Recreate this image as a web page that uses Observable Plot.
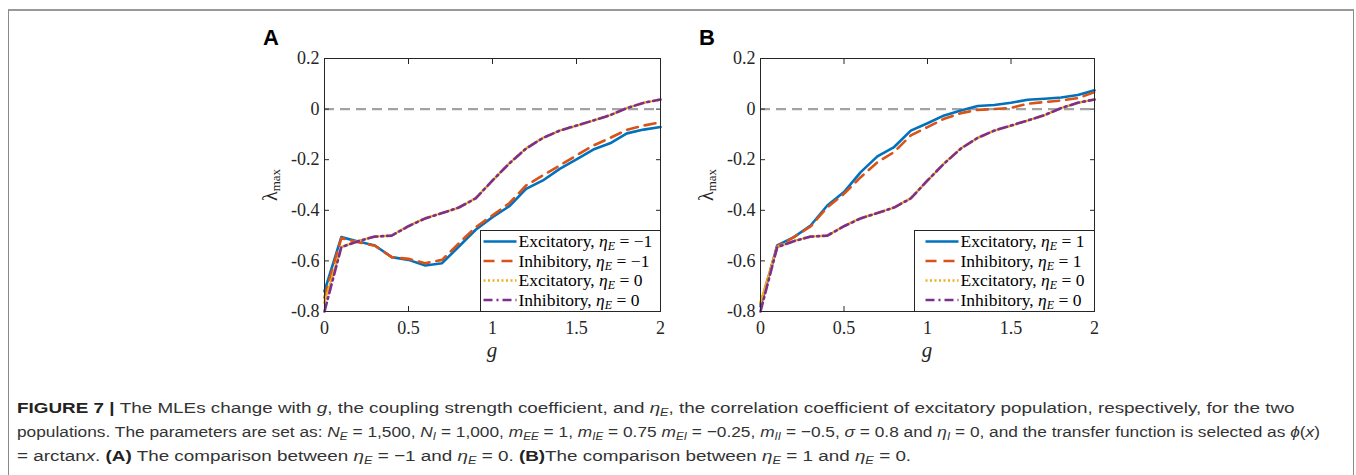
<!DOCTYPE html>
<html><head><meta charset="utf-8">
<script src="https://cdn.jsdelivr.net/npm/d3@7"></script>
<script src="https://cdn.jsdelivr.net/npm/@observablehq/plot@0.6"></script>
<style>
html,body{margin:0;padding:0;background:#fff;width:1356px;height:475px;overflow:hidden;}
#root{position:relative;width:1356px;height:475px;}
#border{position:absolute;left:8px;top:9px;width:1344px;height:500px;border:1px solid #8a8a8a;border-top:2px solid #999;}
.panel{position:absolute;}
#cap{position:absolute;left:0;top:0;}
</style></head><body><div id="root"><div id="border"></div></div>
<script>
// ---- data ----
const g = [0,0.1,0.2,0.3,0.4,0.5,0.6,0.7,0.8,0.9,1.0,1.1,1.2,1.3,1.4,1.5,1.6,1.7,1.8,1.9,2.0];
// Panel A: eta_E = -1
const excA = [-0.72,-0.506,-0.523,-0.539,-0.585,-0.596,-0.618,-0.609,-0.543,-0.477,-0.427,-0.384,-0.315,-0.282,-0.236,-0.199,-0.160,-0.135,-0.096,-0.081,-0.071];
const inhA = [-0.745,-0.510,-0.526,-0.540,-0.585,-0.592,-0.609,-0.596,-0.530,-0.467,-0.420,-0.372,-0.302,-0.262,-0.223,-0.183,-0.144,-0.114,-0.082,-0.065,-0.052];
// eta_E = 0 (both panels)
const exc0 = [-0.765,-0.545,-0.521,-0.504,-0.500,-0.462,-0.431,-0.411,-0.389,-0.352,-0.283,-0.214,-0.155,-0.114,-0.085,-0.066,-0.045,-0.024,0.004,0.025,0.038];
const inh0 = [-0.800,-0.546,-0.522,-0.504,-0.500,-0.463,-0.432,-0.411,-0.389,-0.353,-0.282,-0.215,-0.156,-0.114,-0.085,-0.065,-0.045,-0.024,0.004,0.025,0.038];
// Panel B: eta_E = 1
const excB = [-0.78,-0.539,-0.506,-0.460,-0.381,-0.328,-0.249,-0.187,-0.150,-0.085,-0.056,-0.025,-0.006,0.012,0.016,0.025,0.037,0.041,0.046,0.056,0.074];
const inhB = [-0.77,-0.543,-0.506,-0.464,-0.388,-0.335,-0.269,-0.210,-0.170,-0.104,-0.071,-0.038,-0.016,-0.003,0.000,0.005,0.021,0.028,0.034,0.043,0.067];

const xTicks = [0,0.5,1,1.5,2];
const xTickLabels = ["0","0.5","1","1.5","2"];
const yTicks = [-0.8,-0.6,-0.4,-0.2,0,0.2];
const yTickLabels = ["-0.8","-0.6","-0.4","-0.2","0","0.2"];

const seriesNames = ["Excitatory","Inhibitory","Excitatory","Inhibitory"];
const etaA = ["\u22121","\u22121","0","0"];
const etaB = ["1","1","0","0"];
const colors = ["#0072BD","#D95319","#EDB120","#7E2F8E"];
const dashes = [null,"11,7","2,2.5","9,4,2,4"];

// ---- drawing ----
const root = document.getElementById("root");
const SERIF = '"Liberation Serif","Times New Roman",serif';

function labelOf(ticks, labels){
  return d => labels[ticks.findIndex(t => Math.abs(t - d) < 1e-9)];
}

function makePanel({left, top, frameW, series, etas, letter, legPad}){
  const mL = 74, mR = 10, mT = 18, mB = 60, frameH = 253;
  const W = mL + frameW + mR, H = mT + frameH + mB;
  const marks = [
    Plot.ruleY([0], {stroke:"#a3a3a3", strokeWidth:2.2, strokeDasharray:"10,6"}),
    ...series.map((vals, i) => Plot.line(g.map((x, j) => ({g:x, v:vals[j]})), {
      x:"g", y:"v", stroke:colors[i], strokeWidth:2.6, strokeDasharray:dashes[i] || undefined
    })),
    Plot.frame({stroke:"#262626", strokeWidth:1}),
    Plot.axisX({ticks:xTicks, tickSize:-5, tickPadding:15, tickFormat:labelOf(xTicks, xTickLabels), label:null}),
    Plot.axisX({anchor:"top", ticks:xTicks, tickSize:-5, tickFormat:() => "", label:null}),
    Plot.axisY({ticks:yTicks, tickSize:-5, tickPadding:10, tickFormat:labelOf(yTicks, yTickLabels), label:null}),
    Plot.axisY({anchor:"right", ticks:yTicks, tickSize:-5, tickFormat:() => "", label:null})
  ];
  const chart = Plot.plot({
    width:W, height:H, marginLeft:mL, marginRight:mR, marginTop:mT, marginBottom:mB,
    x:{domain:[0,2]}, y:{domain:[-0.8,0.2]},
    style:{fontFamily:SERIF, fontSize:"18px", color:"#262626", background:"transparent", overflow:"visible"},
    marks
  });
  const div = document.createElement("div");
  div.className = "panel";
  div.style.left = left + "px"; div.style.top = top + "px";
  div.appendChild(chart);
  root.appendChild(div);
  const svg = d3.select(chart);

  // panel letter
  svg.append("text").attr("x", 13).attr("y", 5).attr("text-anchor", "start")
    .attr("font-family", '"Liberation Sans",Arial,sans-serif').attr("font-weight", "bold")
    .attr("font-size", 22).attr("fill", "#000").text(letter);

  // y label lambda_max
  const yl = svg.append("text").attr("transform", `translate(27,145) rotate(-90)`)
    .attr("text-anchor", "middle").attr("font-family", SERIF).attr("fill", "#262626");
  yl.append("tspan").attr("font-size", 20).text("\u03bb");
  yl.append("tspan").attr("font-size", 13).attr("dy", 3).text("max");

  // x label g
  svg.append("text").attr("x", mL + frameW / 2).attr("y", 317).attr("text-anchor", "middle")
    .attr("font-family", SERIF).attr("font-style", "italic").attr("font-size", 21)
    .attr("fill", "#262626").text("g");

  // legend
  const lw = 180, lh = 81;
  const lg = svg.append("g").attr("transform", `translate(${mL + frameW - lw + 0.5},${mT + frameH - lh + 0.5})`);
  lg.append("rect").attr("width", lw).attr("height", lh).attr("fill", "#fff").attr("stroke", "#262626").attr("stroke-width", 1);
  const rows = [11, 30.5, 50, 69.5];
  seriesNames.forEach((name, i) => {
    const y = rows[i];
    lg.append("line").attr("x1", legPad).attr("x2", legPad + 33).attr("y1", y).attr("y2", y)
      .attr("stroke", colors[i]).attr("stroke-width", 2.6).attr("stroke-dasharray", dashes[i]);
    const t = lg.append("text").attr("x", legPad + 35).attr("y", y + 5.5).attr("text-anchor", "start")
      .attr("font-family", SERIF).attr("font-size", 17.5).attr("fill", "#000");
    t.append("tspan").text(name + ", ");
    t.append("tspan").attr("font-style", "italic").text("\u03b7");
    t.append("tspan").attr("font-style", "italic").attr("font-size", 12).attr("dy", 3).text("E");
    t.append("tspan").attr("dy", -3).text(" = " + etas[i]);
  });
}

makePanel({left:250, top:40, frameW:336, series:[excA, inhA, exc0, inh0], etas:etaA, letter:"A", legPad:3});
makePanel({left:686, top:40, frameW:334, series:[excB, inhB, exc0, inh0], etas:etaB, letter:"B", legPad:11});

// ---- caption ----
const capLines = [
  [["FIGURE 7 | ","b"],["The MLEs change with ",""],["g","i"],[", the coupling strength coefficient, and ",""],["\u03b7","i"],["E","s"],[", the correlation coefficient of excitatory population, respectively, for the two",""]],
  [["populations. The parameters are set as: ",""],["N","i"],["E","s"],[" = 1,500, ",""],["N","i"],["I","s"],[" = 1,000, ",""],["m","i"],["EE","s"],[" = 1, ",""],["m","i"],["IE","s"],[" = 0.75 ",""],["m","i"],["EI","s"],[" = \u22120.25, ",""],["m","i"],["II","s"],[" = \u22120.5, ",""],["\u03c3","i"],[" = 0.8 and ",""],["\u03b7","i"],["I","s"],[" = 0, and the transfer function is selected as ",""],["\u03d5","i"],["(",""],["x","i"],[")",""]],
  [["= arctan",""],["x","i"],[". ",""],["(A)","b"],[" The comparison between ",""],["\u03b7","i"],["E","s"],[" = \u22121 and ",""],["\u03b7","i"],["E","s"],[" = 0. ",""],["(B)","b"],["The comparison between ",""],["\u03b7","i"],["E","s"],[" = 1 and ",""],["\u03b7","i"],["E","s"],[" = 0.",""]]
];
const capBase = [413, 437, 461];
const capX = 17;
const capTarget = [1279, 1304, null];
const cap = d3.select(root).append("svg").attr("id", "cap").attr("width", 1356).attr("height", 475);
let sx1 = 1;
capLines.forEach((segs, li) => {
  const gg = cap.append("g");
  const t = gg.append("text").attr("x", 0).attr("y", 0)
    .attr("font-family", '"Liberation Sans",Arial,sans-serif').attr("font-size", 15.5).attr("fill", "#333");
  let sub = false;
  segs.forEach(([txt, st]) => {
    const ts = t.append("tspan").text(txt);
    if (st === "b") ts.attr("font-weight", "bold").attr("fill", "#222");
    if (st === "i") ts.attr("font-style", "italic");
    if (st === "s") { ts.attr("font-style", "italic").attr("font-size", 10.5); if (!sub) ts.attr("dy", 3); sub = true; }
    else if (sub) { ts.attr("dy", -3); sub = false; }
  });
  const w = t.node().getComputedTextLength();
  let sx = capTarget[li] ? capTarget[li] / w : sx1;
  if (li === 0) sx1 = sx;
  gg.attr("transform", `translate(${capX},${capBase[li]}) scale(${sx},1)`);
});
</script>
</body></html>
